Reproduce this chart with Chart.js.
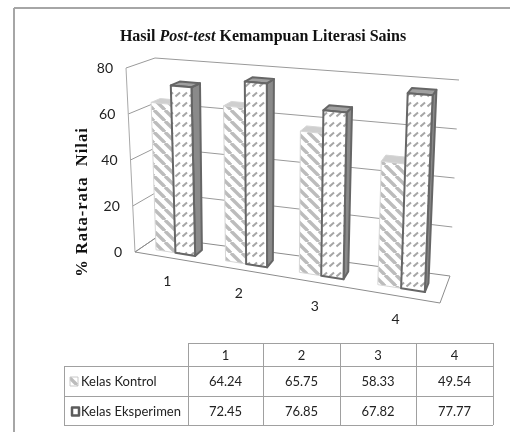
<!DOCTYPE html>
<html>
<head>
<meta charset="utf-8">
<script src="https://cdn.jsdelivr.net/npm/chart.js@4"></script>
<style>
  html, body { margin: 0; padding: 0; background: #fff; }
  canvas { display: block; filter: blur(0.4px); }
</style>
</head>
<body>
<canvas id="chart" width="510" height="432"></canvas>
<script>
const categories = ['1', '2', '3', '4'];
const seriesNames = ['Kelas Kontrol', 'Kelas Eksperimen'];
const kontrol = [64.24, 65.75, 58.33, 49.54];
const eksperimen = [72.45, 76.85, 67.82, 77.77];
const yTicks = [0, 20, 40, 60, 80];

//corners of the 3d box on the page, front/back + bottom/top
const box = {
  fl: [135, 252], fr: [440, 303],
  bl: [157, 237], br: [450, 276],
  flt: [126, 68], frt: [449, 96],
  blt: [155, 58], brt: [459, 80]
};
const foreshorten = -0.115;
const barDepth = [0.3, 0.64];

const lerp = (a, b, t) => [a[0] + (b[0] - a[0]) * t, a[1] + (b[1] - a[1]) * t];

//u = along categories, v = up the value axis, w = into the page, all 0..1
const project = (u, v, w) => {
  const ue = u * (1 + foreshorten) / (1 + foreshorten * u);
  const front = lerp(lerp(box.fl, box.fr, ue), lerp(box.flt, box.frt, ue), v);
  const back = lerp(lerp(box.bl, box.br, ue), lerp(box.blt, box.brt, ue), v);
  return lerp(front, back, w);
};

const quad = (ctx, pts, fill, stroke, lineWidth) => {
  ctx.beginPath();
  pts.forEach((p, i) => i ? ctx.lineTo(p[0], p[1]) : ctx.moveTo(p[0], p[1]));
  ctx.closePath();
  if (fill) {
    ctx.fillStyle = fill;
    ctx.fill();
  }
  if (stroke) {
    ctx.strokeStyle = stroke;
    ctx.lineWidth = lineWidth;
    ctx.lineJoin = 'round';
    ctx.stroke();
  }
};

const line = (ctx, a, b, color, width) => {
  ctx.beginPath();
  ctx.moveTo(a[0], a[1]);
  ctx.lineTo(b[0], b[1]);
  ctx.strokeStyle = color;
  ctx.lineWidth = width;
  ctx.stroke();
};

const makePattern = (ctx, w, h, paint) => {
  const tile = document.createElement('canvas');
  tile.width = w;
  tile.height = h;
  paint(tile.getContext('2d'));
  return ctx.createPattern(tile, 'repeat');
};

const stripes = (ctx) => makePattern(ctx, 11, 11, (t) => {
  t.fillStyle = '#fff';
  t.fillRect(0, 0, 11, 11);
  t.strokeStyle = '#bcbcbc';
  t.lineWidth = 3.4;
  [-11, 0, 11].forEach((o) => {
    t.beginPath();
    t.moveTo(o, 0);
    t.lineTo(o + 11, 11);
    t.stroke();
  });
});

const dashes = (ctx) => makePattern(ctx, 7, 10, (t) => {
  t.fillStyle = '#fff';
  t.fillRect(0, 0, 7, 10);
  t.strokeStyle = '#a6a6a6';
  t.lineWidth = 2;
  t.beginPath();
  t.moveTo(0.5, 6.5);
  t.lineTo(5, 2.5);
  t.stroke();
});

const drawWalls = (chart) => {
  const { ctx, scales } = chart;
  const area = chart.chartArea;
  const toV = (value) => (area.bottom - scales.y.getPixelForValue(value)) / area.height;

  yTicks.forEach((tick) => {
    const v = toV(tick);
    const color = '#9a9a9a';
    if (tick > 0) line(ctx, project(0, v, 1), project(1, v, 1), color, 1);
    line(ctx, project(0, v, 0), project(0, v, 1), color, 1);

    const p = project(0, v, 0);
    ctx.font = '14px Lato';
    ctx.fillStyle = '#222';
    ctx.textAlign = 'right';
    ctx.textBaseline = 'middle';
    ctx.fillText(String(tick), p[0] - 13, p[1]);
  });

  line(ctx, project(0, 0, 0), project(0, 1, 0), '#a8a8a8', 1);
  quad(ctx, [project(0, 0, 0), project(1, 0, 0), project(1, 0, 1), project(0, 0, 1)], null, '#8c8c8c', 1);

  categories.forEach((cat, i) => {
    const u = (scales.x.getPixelForValue(i) - area.left) / area.width;
    const p = project(u, 0, 0);
    ctx.font = '14px Lato';
    ctx.fillStyle = '#222';
    ctx.textAlign = 'center';
    ctx.textBaseline = 'middle';
    ctx.fillText(cat, p[0] - 2, p[1] + 24);
  });
};

const drawBars = (chart) => {
  const { ctx } = chart;
  const area = chart.chartArea;
  const looks = [
    { front: stripes(ctx), side: '#d4d4d4', top: '#cfcfcf', edge: '#d6d6d6', width: 1 },
    { front: dashes(ctx), side: '#8a8a8a', top: '#a0a0a0', edge: '#666', width: 2 }
  ];

  categories.forEach((cat, i) => {
    looks.forEach((look, d) => {
      const el = chart.getDatasetMeta(d).data[i];
      const u0 = (el.x - el.width / 2 - area.left) / area.width;
      const u1 = (el.x + el.width / 2 - area.left) / area.width;
      const v = (area.bottom - el.y) / area.height;
      const [w0, w1] = barDepth;

      quad(ctx, [project(u1, 0, w0), project(u1, 0, w1), project(u1, v, w1), project(u1, v, w0)], look.side, look.edge, look.width);
      quad(ctx, [project(u0, v, w0), project(u1, v, w0), project(u1, v, w1), project(u0, v, w1)], look.top, look.edge, look.width);
      quad(ctx, [project(u0, 0, w0), project(u1, 0, w0), project(u1, v, w0), project(u0, v, w0)], look.front, look.edge, look.width);
    });
  });
};

const drawTitles = (chart) => {
  const { ctx } = chart;
  const runs = [
    ['Hasil ', 'bold 16px "Liberation Serif"'],
    ['Post-test', 'italic bold 16px "Liberation Serif"'],
    [' Kemampuan Literasi Sains', 'bold 16px "Liberation Serif"']
  ];
  let total = 0;
  runs.forEach((r) => {
    ctx.font = r[1];
    total += ctx.measureText(r[0]).width;
  });
  let x = 263 - total / 2;
  ctx.fillStyle = '#111';
  ctx.textAlign = 'left';
  ctx.textBaseline = 'alphabetic';
  runs.forEach((r) => {
    ctx.font = r[1];
    ctx.fillText(r[0], x, 41);
    x += ctx.measureText(r[0]).width;
  });

  ctx.save();
  ctx.translate(87, 202);
  ctx.rotate(-Math.PI / 2);
  ctx.font = 'bold 16.5px "Liberation Serif"';
  ctx.letterSpacing = '1px';
  ctx.textAlign = 'center';
  ctx.fillText('% Rata-rata  Nilai', 0, 0);
  ctx.restore();
};

const drawTable = (chart) => {
  const { ctx } = chart;
  const xs = [64, 188, 263, 340, 416, 493];
  const ys = [343, 366, 396, 425];
  const color = '#a0a0a0';

  ys.forEach((y, i) => line(ctx, [i ? xs[0] : xs[1], y + 0.5], [xs[5], y + 0.5], color, 1));
  xs.forEach((x, i) => line(ctx, [x + 0.5, i ? ys[0] : ys[1]], [x + 0.5, ys[3]], color, 1));

  ctx.fillStyle = '#222';
  ctx.textBaseline = 'middle';
  ctx.textAlign = 'center';
  ctx.font = '13px Lato';
  categories.forEach((cat, i) => {
    ctx.fillText(cat, (xs[i + 1] + xs[i + 2]) / 2, (ys[0] + ys[1]) / 2 + 1);
  });

  [kontrol, eksperimen].forEach((values, r) => {
    const mid = (ys[r + 1] + ys[r + 2]) / 2 + 1;
    ctx.fillStyle = '#222';
    ctx.textAlign = 'left';
    ctx.fillText(seriesNames[r], 81, mid);
    ctx.textAlign = 'center';
    values.forEach((val, i) => {
      ctx.fillText(val.toFixed(2), (xs[i + 1] + xs[i + 2]) / 2, mid);
    });
    //legend key
    if (r === 0) {
      quad(ctx, [[70, mid - 5], [78, mid - 5], [78, mid + 4], [70, mid + 4]], stripes(ctx), '#c8c8c8', 1);
    } else {
      quad(ctx, [[72, mid - 4], [79, mid - 4], [79, mid + 4], [72, mid + 4]], '#fff', '#5c5c5c', 2.5);
    }
  });
};

const drawFrame = (chart) => {
  const { ctx } = chart;
  line(ctx, [14, 8], [14, 432], '#a6a6a6', 2);
  line(ctx, [14, 8], [510, 8], '#a6a6a6', 2);
};

const scenePlugin = {
  id: 'scene',
  beforeDatasetsDraw: (chart) => {
    drawFrame(chart);
    drawWalls(chart);
  },
  afterDatasetsDraw: (chart) => {
    drawBars(chart);
    drawTitles(chart);
    drawTable(chart);
  }
};

new Chart(document.getElementById('chart'), {
  type: 'bar',
  plugins: [scenePlugin],
  data: {
    labels: categories,
    datasets: [
      { label: seriesNames[0], data: kontrol, backgroundColor: 'transparent', borderWidth: 0 },
      { label: seriesNames[1], data: eksperimen, backgroundColor: 'transparent', borderWidth: 0 }
    ]
  },
  options: {
    responsive: false,
    animation: false,
    categoryPercentage: 0.57,
    barPercentage: 1,
    layout: { padding: 0 },
    plugins: { legend: { display: false }, tooltip: { enabled: false } },
    scales: {
      x: { display: false },
      y: { display: false, min: 0, max: 80, ticks: { stepSize: 20 } }
    }
  }
});
</script>
</body>
</html>
